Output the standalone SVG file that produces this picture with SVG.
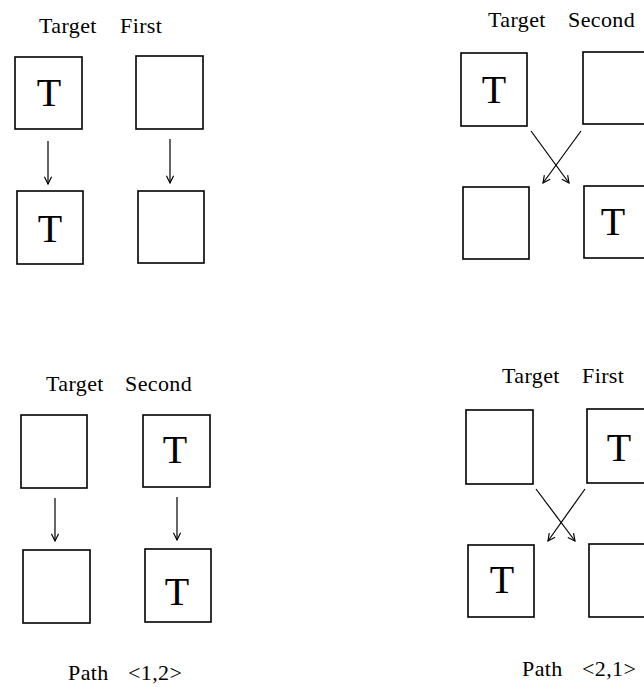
<svg xmlns="http://www.w3.org/2000/svg" width="644" height="687" viewBox="0 0 644 687">
<style>
.box{fill:#fff;stroke:#000;stroke-width:1.6}
.t{font-family:"Liberation Serif","DejaVu Serif",serif;font-size:40px;fill:#000;text-anchor:middle}
.lbl{font-family:"Liberation Serif","DejaVu Serif",serif;font-size:22px;fill:#000;letter-spacing:0.4px}
.arr{stroke:#000;stroke-width:1.2;fill:none;marker-end:url(#ah)}
</style>
<defs>
<marker id="ah" viewBox="0 0 10 10" refX="9" refY="5" markerWidth="9" markerHeight="9" markerUnits="userSpaceOnUse" orient="auto">
<path d="M1,1 L9,5 L1,9" fill="none" stroke="#000" stroke-width="1.3"/>
</marker>
</defs>
<rect width="644" height="687" fill="#fff"/>

<g id="labels">
<text class="lbl" x="39" y="33">Target</text>
<text class="lbl" x="120" y="33">First</text>
<text class="lbl" x="488" y="27">Target</text>
<text class="lbl" x="568" y="27">Second</text>
<text class="lbl" x="46" y="391">Target</text>
<text class="lbl" x="125" y="391">Second</text>
<text class="lbl" x="502" y="383">Target</text>
<text class="lbl" x="582" y="383">First</text>
<text class="lbl" x="68" y="680">Path</text>
<text class="lbl" x="128" y="680">&lt;1,2&gt;</text>
<text class="lbl" x="522" y="676">Path</text>
<text class="lbl" x="582" y="676">&lt;2,1&gt;</text>
</g>

<g id="p1-top-target"><rect class="box" x="15" y="57" width="67" height="72"/><text class="t" x="49" y="106">T</text></g>
<g id="p1-top-first"><rect class="box" x="136" y="56" width="67" height="73"/></g>
<g id="p1-bot-target"><rect class="box" x="17" y="191" width="66" height="73"/><text class="t" x="50" y="242">T</text></g>
<g id="p1-bot-first"><rect class="box" x="138" y="191" width="66" height="72"/></g>

<g id="p2-top-target"><rect class="box" x="461" y="53" width="66" height="73"/><text class="t" x="494" y="103">T</text></g>
<g id="p2-top-second"><rect class="box" x="583" y="52" width="67" height="72"/></g>
<g id="p2-bot-target"><rect class="box" x="463" y="187" width="66" height="72"/></g>
<g id="p2-bot-second"><rect class="box" x="584" y="186" width="66" height="72"/><text class="t" x="613" y="235">T</text></g>

<g id="p3-top-target"><rect class="box" x="21" y="415" width="66" height="73"/></g>
<g id="p3-top-second"><rect class="box" x="143" y="415" width="67" height="72"/><text class="t" x="175" y="463">T</text></g>
<g id="p3-bot-target"><rect class="box" x="23" y="550" width="67" height="73"/></g>
<g id="p3-bot-second"><rect class="box" x="145" y="549" width="66" height="73"/><text class="t" x="177" y="605">T</text></g>

<g id="p4-top-target"><rect class="box" x="466" y="410" width="67" height="74"/></g>
<g id="p4-top-first"><rect class="box" x="587" y="409" width="66" height="74"/><text class="t" x="619" y="461">T</text></g>
<g id="p4-bot-target"><rect class="box" x="468" y="545" width="66" height="72"/><text class="t" x="502" y="593">T</text></g>
<g id="p4-bot-first"><rect class="box" x="589" y="544" width="66" height="73"/></g>

<g id="connectors">
<line class="arr" x1="48" y1="141" x2="48" y2="184"/>
<line class="arr" x1="170" y1="139" x2="170" y2="183"/>
<line class="arr" x1="531" y1="131" x2="569" y2="183"/>
<line class="arr" x1="581" y1="131" x2="543" y2="183"/>
<line class="arr" x1="55" y1="498" x2="55" y2="541"/>
<line class="arr" x1="177" y1="497" x2="177" y2="540"/>
<line class="arr" x1="536" y1="489" x2="575" y2="541"/>
<line class="arr" x1="585" y1="489" x2="548" y2="541"/>
</g>
</svg>
